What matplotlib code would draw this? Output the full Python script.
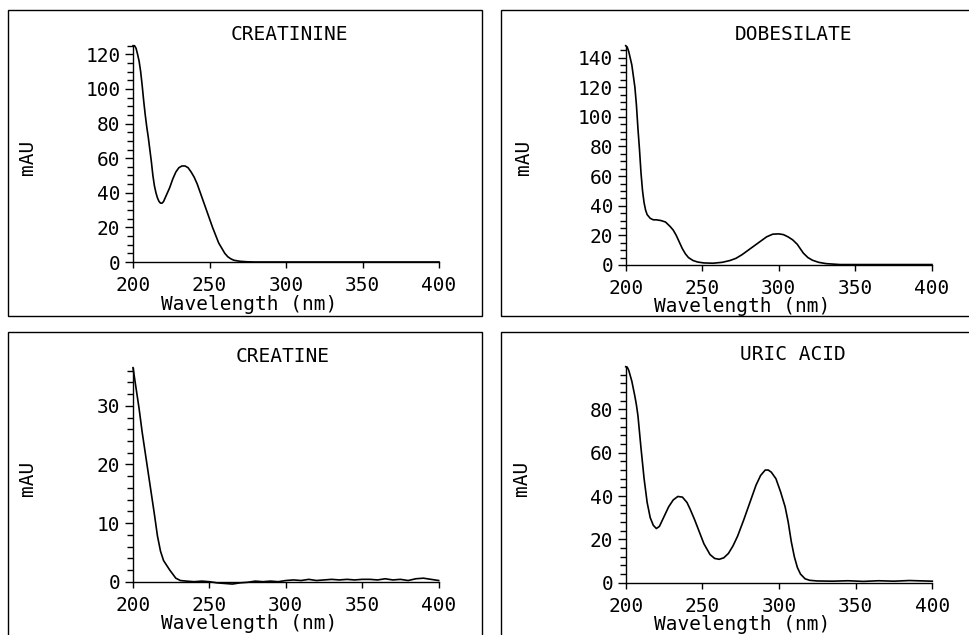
import numpy as np
import matplotlib
matplotlib.use('Agg')
import matplotlib.pyplot as plt
import matplotlib.ticker as ticker
from matplotlib.patches import Rectangle

# spectra (wavelength nm, absorbance mAU)
creatinine_nm = [200, 201, 202, 203, 204, 205, 206, 207, 208, 209, 210, 211, 212, 213, 214,
                 215, 216, 217, 218, 219, 220, 222, 224, 226, 228, 230, 232, 234, 236, 238,
                 240, 242, 244, 246, 248, 250, 252, 254, 256, 258, 260, 262, 264, 266, 270,
                 275, 280, 400]
creatinine_mau = [125, 125, 123.5, 120, 116, 110, 102, 93, 85, 78, 72, 65, 58, 50, 44,
                  40, 37, 35, 34, 34, 35, 39, 43, 48, 52, 54.5, 55.5, 55.5, 54.5, 52,
                  49, 45, 40, 35, 30, 25, 20, 15.5, 11, 8, 5, 3, 1.8, 1, 0.4,
                  0.1, 0, 0]

dobesilate_nm = [200, 201, 202, 204, 206, 207, 208, 209, 210, 211, 212, 213, 214, 216, 218,
                 220, 223, 226, 229, 231, 233, 235, 237, 239, 241, 244, 247, 251, 257, 263,
                 268, 272, 276, 280, 284, 288, 292, 296, 300, 303, 306, 309, 312, 316, 319,
                 322, 326, 331, 340, 400]
dobesilate_mau = [148, 147, 144, 135, 120, 108, 92, 78, 62, 50, 42, 37, 34, 31.5, 30.5,
                  30.5, 30, 29, 26, 23.6, 20, 15.5, 11, 7.5, 5, 3, 2, 1.4, 1.2, 1.8,
                  3, 4.5, 7, 10, 13, 16, 19, 20.8, 21, 20.5, 19, 17, 14, 8, 5,
                  3.2, 1.8, 0.9, 0.3, 0.3]

creatine_nm = [200, 202, 204, 206, 208, 210, 212, 214, 216, 218, 220, 222, 224, 226, 228,
               231, 235, 240, 245, 250, 255, 260, 265, 270, 275, 280, 285, 290, 295, 300,
               305, 310, 315, 320, 325, 330, 335, 340, 345, 350, 355, 360, 365, 370, 375,
               380, 385, 390, 395, 400]
creatine_mau = [36.5, 33, 29.5, 25.5, 22, 18.5, 15, 11.5, 7.8, 5.2, 3.6, 2.8, 2, 1.3, 0.6,
                0.2, 0.1, 0.0, 0.1, 0.0, -0.2, -0.3, -0.4, -0.2, -0.1, 0.1, 0.0, 0.1, 0.0, 0.2,
                0.3, 0.2, 0.4, 0.2, 0.3, 0.4, 0.3, 0.4, 0.3, 0.4, 0.4, 0.3, 0.5, 0.3, 0.4,
                0.2, 0.5, 0.6, 0.4, 0.2]

uric_nm = [200, 201, 202, 204, 206, 207, 208, 210, 212, 214, 216, 218, 220, 222, 224,
           226, 228, 231, 234, 237, 240, 242, 245, 248, 251, 255, 258, 261, 264, 267,
           270, 273, 277, 281, 285, 288, 291, 293, 295, 298, 301, 304, 306, 308, 310,
           312, 314, 317, 320, 325, 335, 345, 355, 365, 375, 385, 395, 400]
uric_mau = [99.7, 99.5, 98, 93, 86, 82, 77, 62, 48, 37, 30, 26.5, 25, 26, 29,
            32, 35, 38.2, 39.8, 39.5, 37, 34, 29, 23.5, 18, 13, 11.2, 10.8, 11.5, 13.5,
            17, 21.5, 29, 37, 45, 49.5, 52, 52, 51, 48, 42, 35, 28, 19, 12,
            7, 4, 1.8, 1.1, 0.8, 0.7, 0.9, 0.6, 0.9, 0.7, 1.0, 0.8, 0.7]

titles = ['CREATININE', 'DOBESILATE', 'CREATINE', 'URIC ACID']
y_majors = [20, 20, 10, 20]
y_minors = [5, 5, 2, 4]
x_ticks = [200, 250, 300, 350, 400]

W, H = 969, 635
fig = plt.figure(figsize=(W / 100, H / 100), dpi=100)
fig.patch.set_facecolor('white')
plt.rcParams['font.family'] = 'DejaVu Sans Mono'
fs = 14


def fx(x):
    return x / W


def fy(y):
    return 1 - y / H


# panel geometry in pixels: axes left/right, zero line, top; box; title; y label
panels = [
    dict(ax=(133, 439, 262, 45.7), box=(8, 10, 482, 316), title=(289, 35), ylab=(28, 157)),
    dict(ax=(625.7, 932, 265, 45.7), box=(501, 10, 990, 316), title=(793, 34), ylab=(523, 157)),
    dict(ax=(133, 438.7, 581.7, 367.7), box=(8, 332, 482, 660), title=(283, 356), ylab=(28, 478)),
    dict(ax=(625.7, 932.3, 582.7, 366.7), box=(501, 332, 990, 660), title=(793, 355), ylab=(522, 478)),
]
series = [(creatinine_nm, creatinine_mau), (dobesilate_nm, dobesilate_mau),
          (creatine_nm, creatine_mau), (uric_nm, uric_mau)]

for i, p in enumerate(panels):
    x0, x1, y0, y1 = p['ax']
    ax = fig.add_axes([fx(x0), fy(y0), (x1 - x0) / W, (y0 - y1) / H])
    nm, mau = series[i]
    ax.plot(nm, mau, color='black', lw=1.2, clip_on=False)
    ax.set_xlim(200, 400)
    ax.set_ylim(0, max(mau))
    ax.patch.set_alpha(0)
    for s in ['top', 'right']:
        ax.spines[s].set_visible(False)
    for s in ['left', 'bottom']:
        ax.spines[s].set_linewidth(1.0)
        ax.spines[s].set_color('black')
    ax.set_xticks(x_ticks)
    ax.yaxis.set_major_locator(ticker.MultipleLocator(y_majors[i]))
    ax.yaxis.set_minor_locator(ticker.MultipleLocator(y_minors[i]))
    ax.tick_params(axis='x', direction='out', length=4, width=1, pad=6, labelsize=fs)
    ax.tick_params(axis='y', which='major', direction='out', length=6, width=1, pad=3, labelsize=fs)
    ax.tick_params(axis='y', which='minor', direction='out', length=4, width=1)

    ax.text(0.38, -42 / (y0 - y1), 'Wavelength (nm)', transform=ax.transAxes,
            ha='center', va='center', fontsize=fs)
    tx, ty = p['title']
    fig.text(fx(tx), fy(ty), titles[i], ha='center', va='center', fontsize=fs)
    lx, ly = p['ylab']
    fig.text(fx(lx), fy(ly), 'mAU', ha='center', va='center', rotation=90, fontsize=fs)

    bx0, by0, bx1, by1 = p['box']
    fig.add_artist(Rectangle((fx(bx0), fy(by1)), (bx1 - bx0) / W, (by1 - by0) / H,
                             transform=fig.transFigure, fill=False, lw=1.0,
                             edgecolor='black', clip_on=False))

fig.savefig('out.png', dpi=100)
